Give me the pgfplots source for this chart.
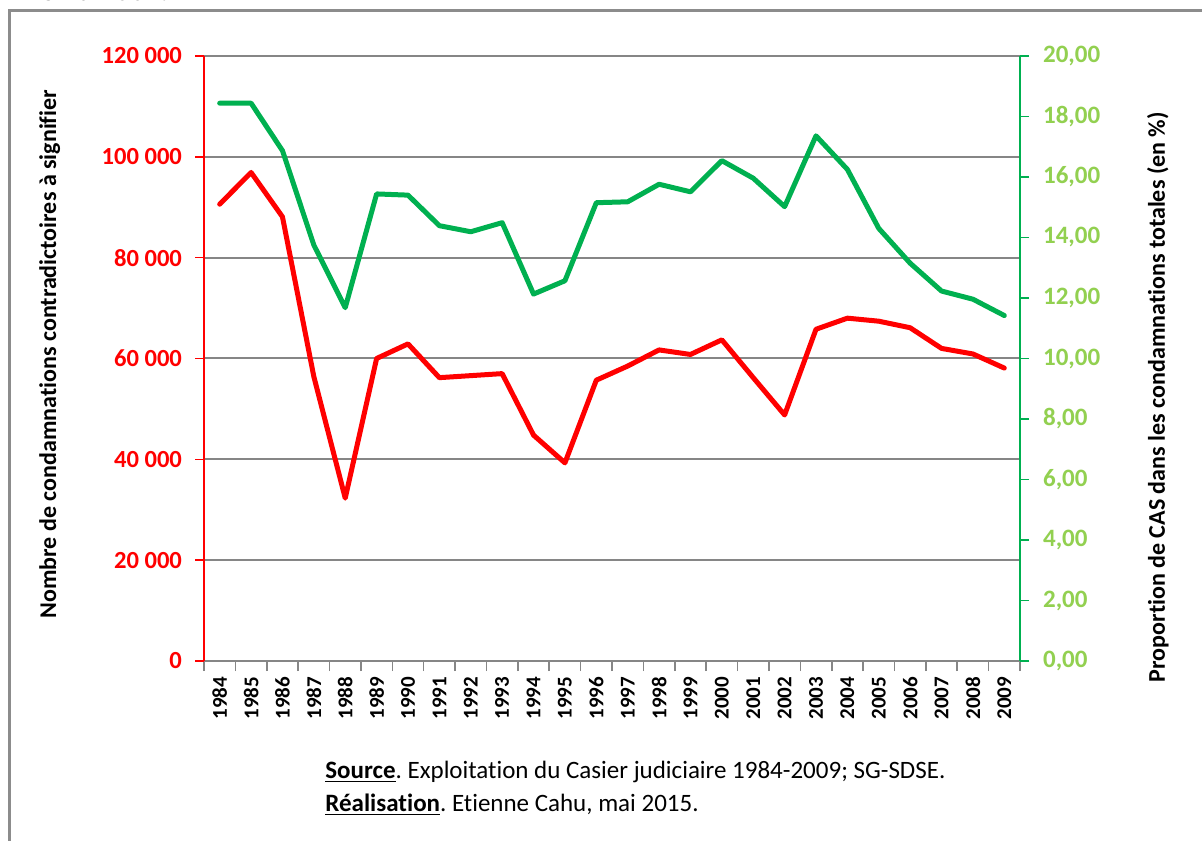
\documentclass[border=0pt]{standalone}
\usepackage{fontspec}
\setmainfont{Carlito}[Ligatures=NoCommon]
\usepackage{pgfplots}
\pgfplotsset{compat=1.18}
\definecolor{cred}{HTML}{FF0000}
\definecolor{cgreen}{HTML}{00B050}
\definecolor{clight}{HTML}{92D050}
\definecolor{cgrid}{HTML}{868686}
\definecolor{cframe}{HTML}{8C8C8C}
\frenchspacing
\begin{document}
\begin{tikzpicture}
\useasboundingbox (0pt,0pt) rectangle (601pt,420pt);
\clip (0pt,0pt) rectangle (601pt,420pt);
\fill[white] (0pt,0pt) rectangle (601pt,420pt);
\draw[cframe, line width=1.5pt] (4.75pt,-10pt) -- (4.75pt,414.5pt) -- (620pt,414.5pt);
\node[anchor=base west, font=\bfseries\fontsize{15}{15}\selectfont, inner sep=0pt] at (5pt,419.9pt) {1984 à 2009.};
\begin{axis}[
  at={(102pt,89.5pt)}, anchor=south west,
  scale only axis, width=408pt, height=302.5pt,
  xmin=-0.5, xmax=25.5, ymin=0, ymax=120000,
  scaled y ticks=false,
  axis x line*=bottom, axis y line*=left,
  axis line style={-},
  x axis line style={cgrid, line width=1pt},
  y axis line style={cred, line width=0.8pt},
  xtick={0,...,25},
  xticklabels={1984,1985,1986,1987,1988,1989,1990,1991,1992,1993,1994,1995,1996,1997,1998,1999,2000,2001,2002,2003,2004,2005,2006,2007,2008,2009},
  major x tick style={draw=none},
  minor xtick={-0.5,0.5,...,25.5},
  minor tick length=5pt,
  minor x tick style={cgrid, line width=0.8pt},
  ytick={0,20000,...,120000},
  yticklabels={0,20 000,40 000,60 000,80 000,100 000,120 000},
  ymajorgrids, grid style={cgrid, line width=1pt},
  tick align=outside,
  major tick length=4.5pt,
  major y tick style={cred, line width=0.8pt},
  yticklabel style={text=cred, font=\bfseries\fontsize{12.3}{12.3}\selectfont, xshift=-3pt},
  xticklabel style={rotate=90, anchor=east, font=\bfseries\fontsize{10.5}{10.5}\selectfont},
  ylabel={Nombre de condamnations contradictoires à signifier},
  ylabel style={font=\bfseries\fontsize{12}{12}\selectfont, at={(axis description cs:-0.189,0.507)}, anchor=center},
  clip=false,
]
\addplot[cred, line width=2.5pt, line join=round, line cap=round, mark=none] coordinates {
(0,90600) (1,96900) (2,88100) (3,56400) (4,32300) (5,60000) (6,62900) (7,56200) (8,56600) (9,57000)
(10,44800) (11,39300) (12,55700) (13,58500) (14,61700) (15,60800) (16,63700) (17,56200) (18,48800)
(19,65800) (20,68000) (21,67400) (22,66100) (23,62000) (24,60900) (25,58100)};
\end{axis}
\begin{axis}[
  at={(102pt,89.5pt)}, anchor=south west,
  scale only axis, width=408pt, height=302.5pt,
  xmin=-0.5, xmax=25.5, ymin=0, ymax=20,
  axis y line*=right, axis x line=none,
  axis line style={-},
  y axis line style={cgreen, line width=0.8pt},
  ytick={0,2,...,20},
  yticklabels={{0,00},{2,00},{4,00},{6,00},{8,00},{10,00},{12,00},{14,00},{16,00},{18,00},{20,00}},
  tick align=outside, major tick length=4.5pt,
  major y tick style={cgreen, line width=0.8pt},
  yticklabel style={text=clight, font=\bfseries\fontsize{12.5}{12.5}\selectfont, xshift=3.5pt},
  ylabel={Proportion de CAS dans les condamnations totales (en \%)},
  ylabel style={font=\bfseries\fontsize{12}{12}\selectfont, at={(axis description cs:1.169,0.436)}, anchor=center},
  clip=false,
]
\addplot[cgreen, line width=2.5pt, line join=round, line cap=round, mark=none] coordinates {
(0,18.44) (1,18.44) (2,16.87) (3,13.75) (4,11.68) (5,15.44) (6,15.40) (7,14.39) (8,14.19) (9,14.49)
(10,12.13) (11,12.57) (12,15.15) (13,15.18) (14,15.76) (15,15.51) (16,16.54) (17,15.96) (18,15.02)
(19,17.36) (20,16.25) (21,14.30) (22,13.15) (23,12.23) (24,11.96) (25,11.42)};
\end{axis}
\node[anchor=base west, font=\fontsize{12.5}{12.5}\selectfont, inner sep=0pt] at (162.5pt,31pt) {\underline{\textbf{Source}}. Exploitation du Casier judiciaire 1984-2009; SG-SDSE.};
\node[anchor=base west, font=\fontsize{12.5}{12.5}\selectfont, inner sep=0pt] at (162.5pt,14.5pt) {\underline{\textbf{Réalisation}}. Etienne Cahu, mai 2015.};
\end{tikzpicture}
\end{document}
